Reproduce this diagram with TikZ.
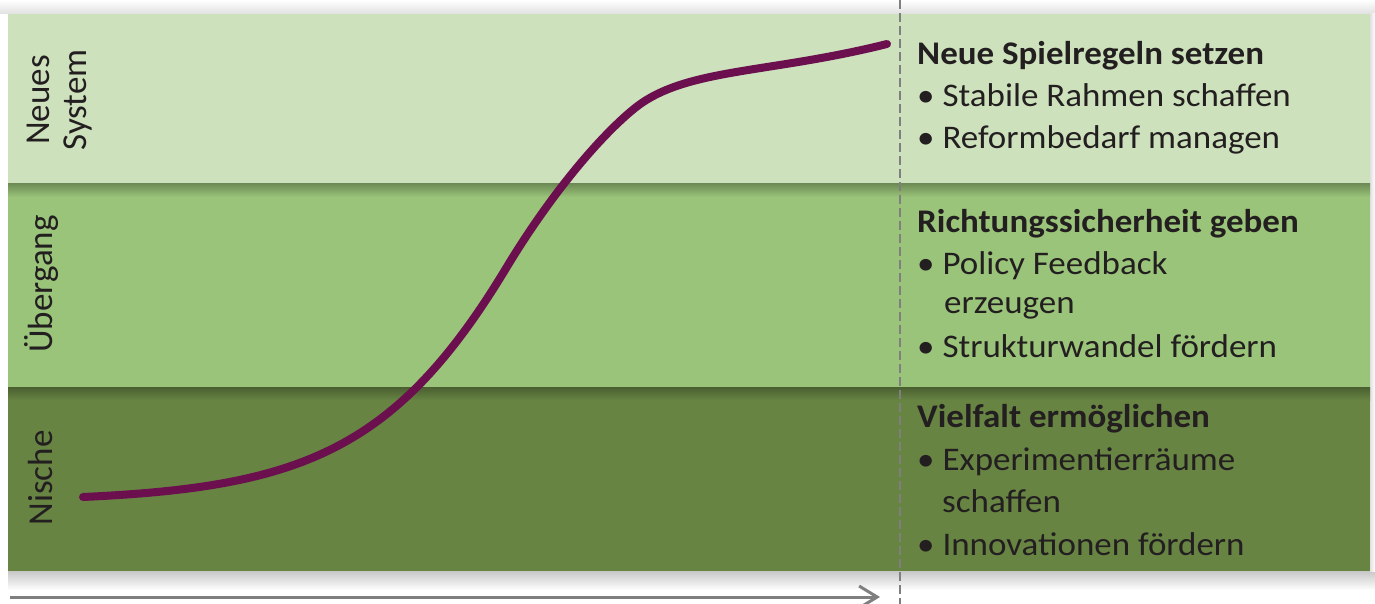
\documentclass[tikz,border=0pt]{standalone}
\usepackage{fontspec}
\setmainfont{Carlito}[FakeStretch=1.06]
\newfontfamily\phasefont{Carlito}
\usetikzlibrary{arrows.meta}
\definecolor{bandtop}{HTML}{CDE2BC}
\definecolor{bandmid}{HTML}{9AC479}
\definecolor{bandlow}{HTML}{678443}
\definecolor{curvecol}{HTML}{6B0F4E}
\definecolor{guide}{HTML}{7F7F7F}
\definecolor{ink}{HTML}{231F20}
\tikzset{
  phase/.style={font=\phasefont\fontsize{35}{37}\selectfont, text=ink, rotate=90, align=center, inner sep=0pt},
  head/.style={font=\bfseries\fontsize{33}{38}\selectfont, text=ink, anchor=base west, inner sep=0pt},
  item/.style={font=\fontsize{33}{38}\selectfont, text=ink, anchor=base west, inner sep=0pt},
}
\begin{document}
\begin{tikzpicture}[x=1pt,y=-1pt]
\useasboundingbox (0,0) rectangle (1375,604);
\clip (0,0) rectangle (1375,604);
\fill[white] (0,0) rectangle (1375,604);
% soft halo around the panel
\shade[top color=white, bottom color=black!12] (0,0) rectangle (1375,14);
\shade[top color=black!22, bottom color=white] (8,571) rectangle (1375,590);
\shade[left color=black!12, right color=white] (1370,14) rectangle (1375,571);
% the three phase bands
\fill[bandlow] (8,387) rectangle (1370,571);
\fill[bandmid] (8,184) rectangle (1370,387);
\fill[bandtop] (8,14) rectangle (1370,184);
% shadows cast by the upper bands
\shade[top color=bandmid!72!black, bottom color=bandmid] (8,184) rectangle (1370,197);
\shade[top color=bandlow!72!black, bottom color=bandlow] (8,387) rectangle (1370,400);
% time axis
\coordinate (axisA) at (10,597);
\coordinate (axisB) at (880,597);
\draw[guide, line width=3pt, -{Straight Barb[length=18pt,width=22pt,line width=3pt]}] (axisA) -- (axisB);
% dashed divider between curve and measures
\coordinate (divTop) at (900,0);
\coordinate (divBot) at (900,604);
\draw[guide, line width=2pt, dash pattern=on 9pt off 4pt] (divTop) -- (divBot);
% transition curve (S-shaped), inflection at c1
\coordinate (c0) at (83,497);
\coordinate (c1) at (505,270);
\coordinate (c2) at (635,108);
\coordinate (c3) at (887,44);
\draw[curvecol, line width=8pt, line cap=round]
  (c0) .. controls (300,487) and (395,451.5) .. (c1)
       .. controls (549.5,195.75) and (600,136) .. (c2)
       .. controls (685,68) and (767,74) .. (c3);
% phase labels
\node[phase] (lblNeu) at (60,100) {Neues\\System};
\node[phase, anchor=base] (lblUeb) at (52,284) {Übergang};
\node[phase, anchor=base] (lblNis) at (52,478) {Nische};
% measures per phase
\node[head] (h1) at (917,65) {Neue Spielregeln setzen};
\node[item] (i11) at (917,107) {• Stabile Rahmen schaffen};
\node[item] (i12) at (917,149) {• Reformbedarf managen};
\node[head] (h2) at (917,232) {Richtungssicherheit geben};
\node[item] (i21) at (917,274) {• Policy Feedback};
\node[item] (i22) at (944,313) {erzeugen};
\node[item] (i23) at (917,357) {• Strukturwandel fördern};
\node[head] (h3) at (917,427) {Vielfalt ermöglichen};
\node[item] (i31) at (917,470) {• Experimentierräume};
\node[item] (i32) at (942,512) {schaffen};
\node[item] (i33) at (917,555) {• Innovationen fördern};
\end{tikzpicture}
\end{document}
